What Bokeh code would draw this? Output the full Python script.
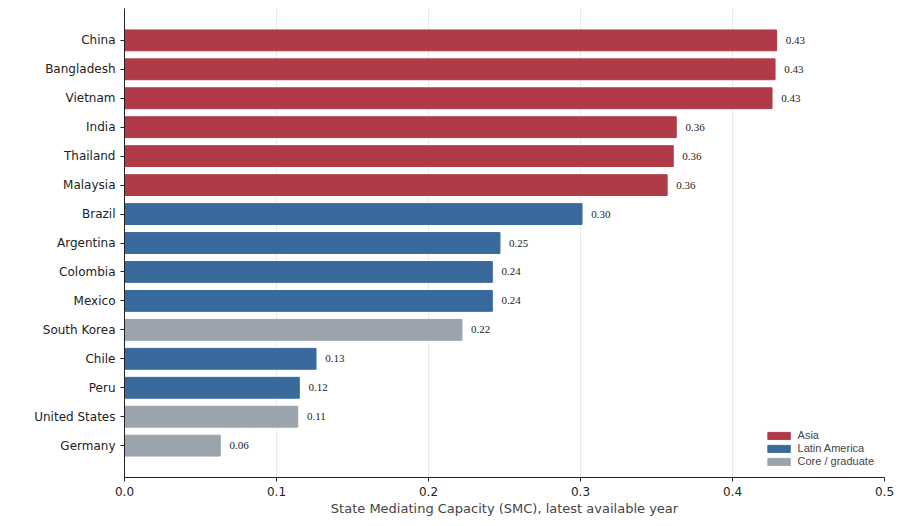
from bokeh.plotting import figure
from bokeh.models import ColumnDataSource, Legend, LegendItem, FixedTicker
from bokeh.embed import file_html
from bokeh.resources import INLINE

countries = ["China","Bangladesh","Vietnam","India","Thailand","Malaysia","Brazil","Argentina",
             "Colombia","Mexico","South Korea","Chile","Peru","United States","Germany"]
values = [0.429,0.428,0.426,0.363,0.361,0.357,0.301,0.247,0.242,0.242,0.222,0.126,0.115,0.114,0.063]
groups = ["Asia"]*6 + ["Latin America"]*4 + ["Core / graduate"] + ["Latin America"]*2 + ["Core / graduate"]*2
colors_map = {"Asia":"#B03A48","Latin America":"#3A6A9C","Core / graduate":"#9BA3AD"}

n = len(countries)
ys = [n-1-i for i in range(n)]
p = figure(width=908, height=518, output_backend="svg", toolbar_location=None,
           x_range=(0,0.5), y_range=(-1.1, n-1+1.1),
           min_border_left=124, min_border_right=24, min_border_top=8, min_border_bottom=37)
p.outline_line_color=None
p.ygrid.grid_line_color=None
p.xgrid.grid_line_color="#ebebeb"
p.xaxis.ticker = FixedTicker(ticks=[0,0.1,0.2,0.3,0.4,0.5])
p.xaxis.major_label_overrides = {0:"0.0",0.1:"0.1",0.2:"0.2",0.3:"0.3",0.4:"0.4",0.5:"0.5"}
p.yaxis.ticker = FixedTicker(ticks=ys)
p.yaxis.major_label_overrides = {y:c for y,c in zip(ys,countries)}
p.xaxis.axis_label = "State Mediating Capacity (SMC), latest available year"
for ax in (p.xaxis, p.yaxis):
    ax.major_label_text_font="DejaVu Sans"
    ax.major_label_text_font_size="12px"
    ax.major_label_text_color="#222222"
    ax.minor_tick_line_color=None
    ax.axis_line_color="#222222"
    ax.major_tick_line_color="#222222"
    ax.major_tick_in=0
    ax.major_tick_out=4
p.xaxis.axis_label_text_font="DejaVu Sans"
p.xaxis.axis_label_text_font_style="normal"
p.xaxis.axis_label_text_font_size="13px"
p.xaxis.axis_label_standoff=2

items=[]
for g in ["Asia","Latin America","Core / graduate"]:
    idx=[i for i in range(n) if groups[i]==g]
    src=ColumnDataSource(dict(y=[ys[i] for i in idx], v=[values[i] for i in idx]))
    r=p.hbar(y="y", right="v", left=0, height=0.72, source=src, color=colors_map[g])
    items.append(LegendItem(label=g, renderers=[r]))

src=ColumnDataSource(dict(x=[v+0.006 for v in values], y=ys, t=[f"{v:.2f}" for v in values]))
p.text(x="x", y="y", text="t", source=src, text_font_size="11px", text_baseline="middle",
       text_color="#222222", text_font="DejaVu Sans")

leg=Legend(items=items, location="bottom_right", label_text_font_size="11px",
           glyph_width=28, glyph_height=9, label_height=10, spacing=1, padding=4,
           border_line_color=None, background_fill_alpha=0)
p.add_layout(leg)

open("out.html","w").write(file_html(p, INLINE))
